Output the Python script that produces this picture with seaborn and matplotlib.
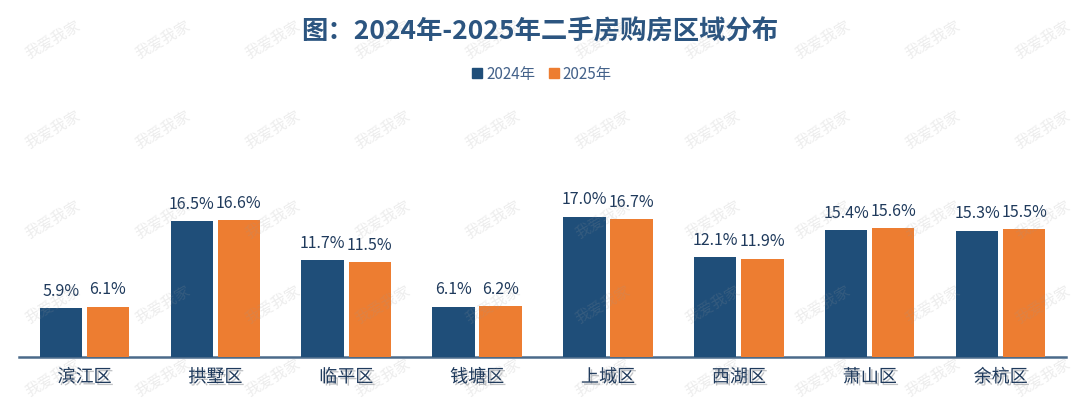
import numpy as np
import pandas as pd
import matplotlib
matplotlib.use("Agg")
import matplotlib.pyplot as plt
import matplotlib.patheffects as pe
import seaborn as sns

districts = ["滨江区", "拱墅区", "临平区", "钱塘区", "上城区", "西湖区", "萧山区", "余杭区"]
years = ["2024年", "2025年"]
share_2024 = [5.9, 16.5, 11.7, 6.1, 17.0, 12.1, 15.4, 15.3]
share_2025 = [6.1, 16.6, 11.5, 6.2, 16.7, 11.9, 15.6, 15.5]

NAVY = "#1F4E79"
ORANGE = "#ED7D31"
TITLE_C = "#2C5580"
TEXT_C = "#1F3A5C"

df = pd.DataFrame({
    "district": districts * 2,
    "year": [years[0]] * len(districts) + [years[1]] * len(districts),
    "share": share_2024 + share_2025,
})

sns.set_theme(style="white")
plt.rcParams["font.family"] = ["Noto Sans CJK SC", "DejaVu Sans"]

fig = plt.figure(figsize=(10.8, 4.01), dpi=100)
ax = fig.add_axes([19 / 1080, 44 / 401, 1047 / 1080, 165 / 401])

# watermark
for y in [40, 130, 220, 305, 378]:
    for x in np.arange(53, 1060, 110):
        fig.text(x / 1080, 1 - y / 401, "我爱我家", fontsize=11, color="#999999",
                 alpha=0.18, rotation=30, ha="center", va="center", zorder=0)

sns.barplot(data=df, x="district", y="share", hue="year", order=districts,
            hue_order=years, palette=[NAVY, ORANGE], width=0.72, gap=0.1,
            saturation=1, linewidth=0, edgecolor="none", ax=ax, legend=False, zorder=3)

for cont in ax.containers:
    ax.bar_label(cont, labels=[f"{v:.1f}%" for v in cont.datavalues],
                 padding=6, fontsize=11.5, color=TEXT_C)

ax.set_xlim(-0.5, len(districts) - 0.5)
ax.set_ylim(0, 20)
ax.set_xlabel("")
ax.set_ylabel("")
ax.set_yticks([])
for s in ["top", "right", "left"]:
    ax.spines[s].set_visible(False)
ax.spines["bottom"].set_color("#4A6A8A")
ax.spines["bottom"].set_linewidth(1.8)
ax.spines["bottom"].set_path_effects([pe.SimplePatchShadow(offset=(0, -2), alpha=0.25), pe.Normal()])
ax.tick_params(axis="x", length=0, pad=8)
for lab in ax.get_xticklabels():
    lab.set_fontsize(13)
    lab.set_color(TEXT_C)
    lab.set_path_effects([pe.withSimplePatchShadow(offset=(1.5, -1.5), alpha=0.25)])
ax.patch.set_alpha(0)

fig.text(0.5, 1 - 32 / 401, "图：2024年-2025年二手房购房区域分布", ha="center", va="center",
         fontsize=19, fontweight="bold", color=TITLE_C)

handles = [plt.Line2D([], [], marker="s", linestyle="", markersize=7, color=c) for c in [NAVY, ORANGE]]
fig.legend(handles, years, loc="center", bbox_to_anchor=(0.5, 1 - 74 / 401), ncol=2,
           frameon=False, fontsize=11, handletextpad=0.0, columnspacing=0.6,
           handlelength=1.2, labelcolor="#44628A")

fig.savefig("out.png", dpi=100)
